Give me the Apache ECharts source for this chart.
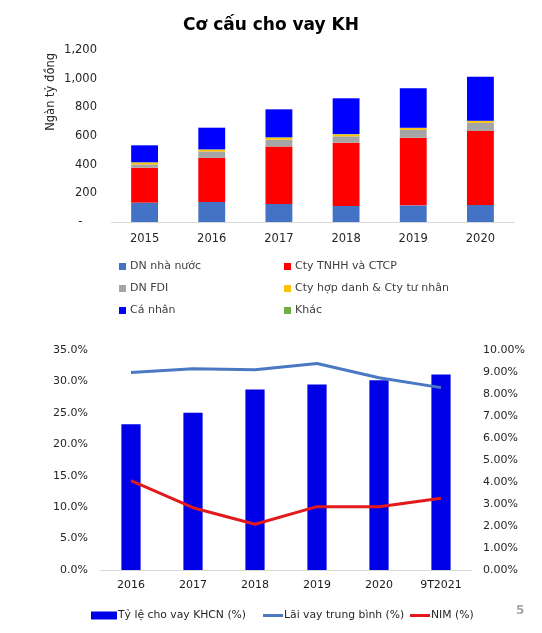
<!DOCTYPE html>
<html>
<head>
<meta charset="utf-8">
<script src="https://cdn.jsdelivr.net/npm/echarts@6/dist/echarts.min.js"></script>
<style>html,body{margin:0;padding:0;background:#fff}#c{width:542px;height:633px}</style>
</head>
<body>
<div id="c"></div>
<script>
// ---- Top chart data (Ngàn tỷ đồng) ----
const years = ['2015', '2016', '2017', '2018', '2019', '2020'];
const dnNhaNuoc = [135, 140, 126, 112, 116, 119];
const ctyTNHH = [244, 307, 400, 441, 472, 516];
const dnFDI = [23, 45, 48, 45, 55, 57];
const ctyHopDanh = [12, 12, 14, 13, 12, 12];
const khac = [3, 3, 3, 3, 3, 3];
const caNhan = [118, 151, 195, 249, 275, 307];
const topTicks = [0, 200, 400, 600, 800, 1000, 1200];

// ---- Bottom chart data (%) ----
const periods = ['2016', '2017', '2018', '2019', '2020', '9T2021'];
const tyLeKHCN = [23.2, 25.0, 28.7, 29.5, 30.2, 31.1];
const laiVayTB = [8.98, 9.15, 9.10, 9.39, 8.74, 8.29];
const nim = [4.06, 2.83, 2.08, 2.88, 2.88, 3.26];

const FONT = 'DejaVu Sans';
const chart = echarts.init(document.getElementById('c'), null, {renderer: 'canvas'});

function stackBar(name, data, color) {
  return {name, type: 'bar', stack: 'kh', data, xAxisIndex: 0, yAxisIndex: 0,
    barWidth: '40%', itemStyle: {color}, emphasis: {disabled: true}};
}
function lg(name, left, top, w, h, extra) {
  return Object.assign({data: [name], left, top, itemWidth: w, itemHeight: h, icon: 'rect',
    itemGap: 0, selectedMode: false,
    textStyle: {fontFamily: FONT, fontSize: 11, color: '#404040', padding: [0, 0, 0, -1]}}, extra || {});
}
const lgText = {textStyle: {fontFamily: FONT, fontSize: 10.8, color: '#262626', padding: [0, 0, 0, -4]}};

const option = {
  animation: false,
  title: {text: 'Cơ cấu cho vay KH', left: 'center', top: 12,
    textStyle: {fontFamily: FONT, fontSize: 17, fontWeight: 'bold', color: '#000'}},
  graphic: [
    {type: 'text', left: 45, top: 53, rotation: Math.PI / 2,
      style: {text: 'Ngàn tỷ đồng', fontFamily: FONT, fontSize: 11.5, fill: '#262626'}},
    {type: 'text', left: 516, top: 605,
      style: {text: '5', fontFamily: FONT, fontSize: 12, fontWeight: 'bold', fill: '#A6A6A6'}}
  ],
  legend: [
    lg('DN nhà nước', 114, 256, 7, 7),
    lg('Cty TNHH và CTCP', 279, 256, 7, 7),
    lg('DN FDI', 114, 278, 7, 7),
    lg('Cty hợp danh & Cty tư nhân', 279, 278, 7, 7),
    lg('Cá nhân', 114, 300, 7, 7),
    lg('Khác', 279, 300, 7, 7),
    lg('Tỷ lệ cho vay KHCN (%)', 86, 605, 26, 8, lgText),
    lg('Lãi vay trung bình (%)', 258, 605, 20, 3, lgText),
    lg('NIM (%)', 405, 605, 20, 3, lgText)
  ],
  grid: [
    {left: 111, right: 28, top: 50, height: 172},
    {left: 100, right: 70, top: 350, height: 220}
  ],
  xAxis: [
    {type: 'category', gridIndex: 0, data: years,
      axisLine: {lineStyle: {color: '#D9D9D9', width: 1}}, axisTick: {show: false},
      axisLabel: {fontFamily: FONT, fontSize: 11.5, color: '#262626', margin: 11, interval: 0}},
    {type: 'category', gridIndex: 1, data: periods,
      axisLine: {lineStyle: {color: '#D9D9D9', width: 1}}, axisTick: {show: false},
      axisLabel: {fontFamily: FONT, fontSize: 11, color: '#1a1a1a', margin: 10, interval: 0}}
  ],
  yAxis: [
    {type: 'value', gridIndex: 0, min: topTicks[0], max: topTicks[topTicks.length - 1], interval: 200,
      splitLine: {show: false}, axisLine: {show: false}, axisTick: {show: false},
      axisLabel: {fontFamily: FONT, fontSize: 11.5, color: '#262626', margin: 14,
        formatter: v => v === 0 ? '-    ' : v.toLocaleString('en-US')}},
    {type: 'value', gridIndex: 1, min: 0, max: 35, interval: 5,
      splitLine: {show: false}, axisLine: {show: false}, axisTick: {show: false},
      axisLabel: {fontFamily: FONT, fontSize: 11, color: '#262626', margin: 12,
        formatter: v => v.toFixed(1) + '%'}},
    {type: 'value', gridIndex: 1, position: 'right', min: 0, max: 10, interval: 1,
      splitLine: {show: false}, axisLine: {show: false}, axisTick: {show: false},
      axisLabel: {fontFamily: FONT, fontSize: 11, color: '#262626', margin: 11,
        formatter: v => v.toFixed(2) + '%'}}
  ],
  series: [
    stackBar('DN nhà nước', dnNhaNuoc, '#4472C4'),
    stackBar('Cty TNHH và CTCP', ctyTNHH, '#FF0000'),
    stackBar('DN FDI', dnFDI, '#A5A5A5'),
    stackBar('Cty hợp danh & Cty tư nhân', ctyHopDanh, '#FFC000'),
    stackBar('Khác', khac, '#70AD47'),
    stackBar('Cá nhân', caNhan, '#0000FF'),
    {name: 'Tỷ lệ cho vay KHCN (%)', type: 'bar', xAxisIndex: 1, yAxisIndex: 1, data: tyLeKHCN,
      barWidth: '31%', itemStyle: {color: '#0000E6'}},
    {name: 'Lãi vay trung bình (%)', type: 'line', xAxisIndex: 1, yAxisIndex: 2, data: laiVayTB,
      symbol: 'none', lineStyle: {color: '#4A78C2', width: 3}, itemStyle: {color: '#4A78C2'}},
    {name: 'NIM (%)', type: 'line', xAxisIndex: 1, yAxisIndex: 2, data: nim,
      symbol: 'none', lineStyle: {color: '#E31A1C', width: 3}, itemStyle: {color: '#E31A1C'}}
  ]
};
chart.setOption(option);
</script>
</body>
</html>
